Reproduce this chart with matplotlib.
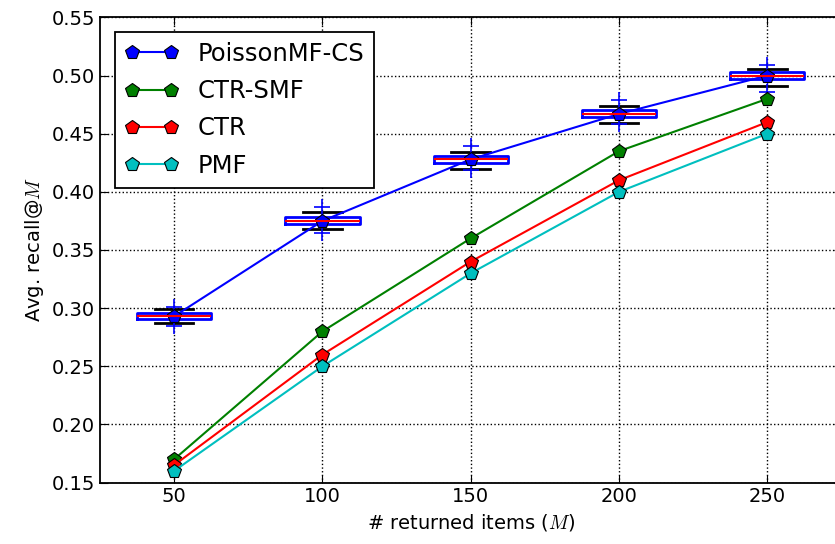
import matplotlib
matplotlib.use("Agg")
import matplotlib.pyplot as plt

plt.rcParams["mathtext.fontset"] = "cm"

M = [50, 100, 150, 200, 250]
poisson_cs = [0.293, 0.375, 0.428, 0.467, 0.500]
ctr_smf = [0.170, 0.280, 0.360, 0.435, 0.480]
ctr = [0.165, 0.260, 0.340, 0.410, 0.460]
pmf = [0.160, 0.250, 0.330, 0.400, 0.450]

# box stats for PoissonMF-CS
box_q1 = [0.2905, 0.3722, 0.4252, 0.4642, 0.4972]
box_q3 = [0.2962, 0.3782, 0.4312, 0.4702, 0.5032]
box_lo = [0.2875, 0.3677, 0.4200, 0.4595, 0.4910]
box_hi = [0.2995, 0.3826, 0.4340, 0.4740, 0.5057]
fliers_lo = [0.2850, 0.3650, 0.4190, 0.4580, 0.4860]
fliers_hi = [0.3010, 0.3870, 0.4390, 0.4790, 0.5090]

fig = plt.figure(figsize=(8.35, 5.44), dpi=100)
ax = fig.add_axes([0.1198, 0.113, 0.888, 0.855])

stats = []
for i in range(len(M)):
    stats.append({"med": poisson_cs[i], "q1": box_q1[i], "q3": box_q3[i],
                  "whislo": box_lo[i], "whishi": box_hi[i],
                  "fliers": [fliers_lo[i], fliers_hi[i]]})

ax.bxp(stats, positions=M, widths=25, manage_ticks=False,
       boxprops=dict(color="b", lw=2),
       medianprops=dict(color="r", lw=1.5),
       whiskerprops=dict(color="b", ls="--", lw=1),
       capprops=dict(color="k", lw=2),
       capwidths=13,
       flierprops=dict(marker="+", markeredgecolor="b", markersize=11, mew=1.2))

series = [(poisson_cs, "b", "PoissonMF-CS"),
          (ctr_smf, "g", "CTR-SMF"),
          (ctr, "r", "CTR"),
          (pmf, "c", "PMF")]
for vals, c, lab in series:
    ax.plot(M, vals, color=c, lw=1.5, marker="p", ms=10, mec="k", mew=0.8, label=lab)

ax.set_xlim(25, 275)
ax.set_ylim(0.15, 0.55)
ax.set_xticks(M)
ax.set_yticks([0.15, 0.20, 0.25, 0.30, 0.35, 0.40, 0.45, 0.50, 0.55])
ax.set_yticklabels(["%.2f" % v for v in ax.get_yticks()])
ax.grid(True, ls=":", color="k", lw=1)
ax.tick_params(direction="in", top=True, right=True, labelsize=14, length=6)
for s in ax.spines.values():
    s.set_linewidth(1.3)

ax.set_xlabel("# returned items ($M$)", fontsize=14)
ax.set_ylabel("Avg. recall@$M$", fontsize=14)

leg = ax.legend(loc="upper left", fontsize=17.5, numpoints=2, fancybox=False,
                framealpha=1, edgecolor="k", borderaxespad=0.6, handlelength=2.2,
                labelspacing=0.55)
leg.get_frame().set_linewidth(1.3)

fig.savefig("out.png", dpi=100)
